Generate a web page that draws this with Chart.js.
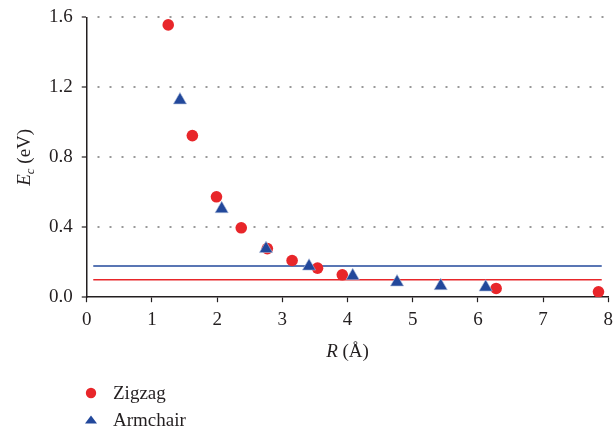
<!DOCTYPE html>
<html>
<head>
<meta charset="utf-8">
<script src="https://cdn.jsdelivr.net/npm/chart.js@4.4.1/dist/chart.umd.min.js"></script>
<style>
  html, body { margin: 0; background: #fff; overflow: hidden; }
  #wrap { width: 619px; height: 435px; position: absolute; left: 0; top: -3px; }
</style>
</head>
<body>
<div id="wrap"><canvas id="chart"></canvas></div>
<script>
// values
const zigzagR = [1.25, 1.62, 1.99, 2.37, 2.77, 3.15, 3.54, 3.92, 6.28, 7.85];
const zigzagE = [1.557, 0.924, 0.574, 0.397, 0.278, 0.21, 0.166, 0.128, 0.05, 0.031];
const armchairR = [1.43, 2.07, 2.75, 3.41, 4.08, 4.76, 5.43, 6.12];
const armchairE = [1.127, 0.505, 0.277, 0.177, 0.122, 0.086, 0.065, 0.057];
const zigzagLimit = 0.1;
const armchairLimit = 0.178;
const limitRange = [0.1, 7.9];
const yTicks = [0, 0.4, 0.8, 1.2, 1.6];
const xTicks = [0, 1, 2, 3, 4, 5, 6, 7, 8];

const RED = "#e8262a";
const BLUE = "#22489b";
const INK = "#231f20";
const FONT = "'Liberation Serif', 'Times New Roman', serif";

function pts(xs, ys) {
    return xs.map((x, i) => ({ x: x, y: ys[i] }));
}

function limitLine(y) {
    return limitRange.map(x => ({ x: x, y: y }));
}

// axis titles and the stacked legend are drawn by hand (italic symbols, subscript)
const extras = {
    id: "extras",
    afterDraw(c) {
        const ctx = c.ctx;
        const area = c.chartArea;
        ctx.save();
        ctx.fillStyle = INK;
        ctx.textBaseline = "alphabetic";

        // y title: E_c (eV)
        ctx.save();
        ctx.translate(30, (area.top + area.bottom) / 2);
        ctx.rotate(-Math.PI / 2);
        ctx.font = "italic 19px " + FONT;
        const wE = ctx.measureText("E").width;
        ctx.font = "italic 13px " + FONT;
        const wc = ctx.measureText("c").width;
        ctx.font = "19px " + FONT;
        const wRest = ctx.measureText(" (eV)").width;
        let x0 = -(wE + wc + wRest) / 2;
        ctx.font = "italic 19px " + FONT;
        ctx.fillText("E", x0, 0);
        ctx.font = "italic 13px " + FONT;
        ctx.fillText("c", x0 + wE, 4);
        ctx.font = "19px " + FONT;
        ctx.fillText(" (eV)", x0 + wE + wc, 0);
        ctx.restore();

        // x title: R (Å)
        ctx.font = "italic 19px " + FONT;
        const wR = ctx.measureText("R").width;
        ctx.font = "19px " + FONT;
        const wA = ctx.measureText(" (Å)").width;
        let xs = (area.left + area.right) / 2 - (wR + wA) / 2;
        ctx.font = "italic 19px " + FONT;
        ctx.fillText("R", xs, 360);
        ctx.font = "19px " + FONT;
        ctx.fillText(" (Å)", xs + wR, 360);

        // legend
        const items = c.data.datasets.filter(d => d.legendRow !== undefined);
        items.forEach(d => {
            const cy = d.legendRow;
            const cx = 91;
            ctx.fillStyle = d.backgroundColor;
            ctx.beginPath();
            if (d.pointStyle === "triangle") {
                ctx.moveTo(cx, cy - 4.5);
                ctx.lineTo(cx + 6, cy + 3.5);
                ctx.lineTo(cx - 6, cy + 3.5);
                ctx.closePath();
            } else {
                ctx.arc(cx, cy, 5.2, 0, Math.PI * 2);
            }
            ctx.fill();
            ctx.fillStyle = INK;
            ctx.font = "19px " + FONT;
            ctx.textBaseline = "middle";
            ctx.fillText(d.label, 113, cy + 1);
        });
        ctx.restore();
    }
};

new Chart(document.getElementById("chart"), {
    type: "scatter",
    data: {
        datasets: [
            {
                label: "Zigzag",
                data: pts(zigzagR, zigzagE),
                pointStyle: "circle",
                pointRadius: 5.8,
                backgroundColor: RED,
                borderWidth: 0,
                order: 1,
                legendRow: 396
            },
            {
                label: "Armchair",
                data: pts(armchairR, armchairE),
                pointStyle: "triangle",
                pointRadius: 7.6,
                backgroundColor: BLUE,
                borderColor: "#aab8d8",
                borderWidth: 0.6,
                order: 0,
                legendRow: 423
            },
            {
                type: "line",
                label: "zigzag limit",
                data: limitLine(zigzagLimit),
                borderColor: RED,
                borderWidth: 1.5,
                pointRadius: 0,
                order: 2
            },
            {
                type: "line",
                label: "armchair limit",
                data: limitLine(armchairLimit),
                borderColor: BLUE,
                borderWidth: 1.5,
                pointRadius: 0,
                order: 2
            }
        ]
    },
    options: {
        responsive: true,
        maintainAspectRatio: false,
        animation: false,
        layout: { padding: { left: 40, top: 0, right: 0, bottom: 95 } },
        plugins: {
            legend: { display: false },
            tooltip: { enabled: false }
        },
        scales: {
            x: {
                type: "linear",
                min: 0,
                max: 8,
                afterBuildTicks: s => { s.ticks = xTicks.map(v => ({ value: v })); },
                ticks: {
                    color: INK,
                    font: { family: FONT, size: 19 },
                    padding: 6
                },
                grid: {
                    drawOnChartArea: false,
                    drawTicks: true,
                    tickLength: 5,
                    tickColor: INK,
                    tickWidth: 1.2
                },
                border: { color: INK, width: 1.5 }
            },
            y: {
                type: "linear",
                min: 0,
                max: 1.6,
                afterBuildTicks: s => { s.ticks = yTicks.map(v => ({ value: v })); },
                ticks: {
                    color: INK,
                    font: { family: FONT, size: 19 },
                    padding: 9,
                    callback: v => v.toFixed(1)
                },
                grid: {
                    color: ctx => ctx.tick && ctx.tick.value === 0 ? "rgba(0,0,0,0)" : "#999999",
                    lineWidth: 2,
                    drawTicks: true,
                    tickLength: 5,
                    tickColor: INK,
                    tickWidth: 1.2,
                    tickBorderDash: []
                },
                border: { color: INK, width: 1.5, dash: [2, 10], dashOffset: -10 }
            }
        }
    },
    plugins: [extras]
});
</script>
</body>
</html>
